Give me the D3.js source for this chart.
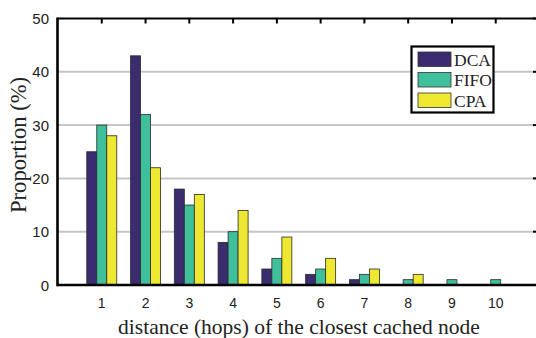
<!DOCTYPE html>
<html><head><meta charset="utf-8">
<script src="https://cdn.jsdelivr.net/npm/d3@7"></script>
<style>body{margin:0;background:#fff}svg{display:block}</style>
</head><body>
<svg id="c" width="536" height="338"></svg>
<script>
const categories = [1,2,3,4,5,6,7,8,9,10];
const seriesNames = ["DCA","FIFO","CPA"];
const dca  = [25,43,18,8,3,2,1,0,0,0];
const fifo = [30,32,15,10,5,3,2,1,1,1];
const cpa  = [28,22,17,14,9,5,3,2,0,0];
const yTicks = [0,10,20,30,40,50];
const colors = ["#3a2c6e","#3fbf9b","#eee831"];
const values = [dca,fifo,cpa];

const svg = d3.select("#c");
const L=57.5, R=538, T=18.5, B=285;
const x = d3.scaleLinear().domain([0,11]).range([58,539.5]);
const y = d3.scaleLinear().domain([0,50]).range([B,T]);
const xs = d3.scaleBand().domain(seriesNames).range([-15,15]);

// gridlines
svg.append("g").selectAll("line").data(yTicks.filter(d=>d>0&&d<50)).join("line")
  .attr("x1",L).attr("x2",R).attr("y1",d=>y(d)).attr("y2",d=>y(d))
  .attr("stroke","#c6c6c6").attr("stroke-width",2);

// bars
seriesNames.forEach((s,i)=>{
  svg.append("g").selectAll("rect").data(categories.map((c,j)=>({c,v:values[i][j]})).filter(d=>d.v>0)).join("rect")
    .attr("x",d=>x(d.c)+xs(s)).attr("width",xs.bandwidth())
    .attr("y",d=>y(d.v)).attr("height",d=>B-y(d.v))
    .attr("fill",colors[i]).attr("stroke","#2a2a2a").attr("stroke-width",0.8);
});

// frame
const ax = svg.append("g").attr("stroke","#000");
ax.append("line").attr("x1",L).attr("x2",R).attr("y1",T).attr("y2",T).attr("stroke-width",2.2);
ax.append("line").attr("x1",L).attr("x2",R).attr("y1",B).attr("y2",B).attr("stroke-width",2.6);
ax.append("line").attr("x1",L).attr("x2",L).attr("y1",T-1).attr("y2",B+1.3).attr("stroke-width",2.6);
ax.append("line").attr("x1",R).attr("x2",R).attr("y1",T).attr("y2",B).attr("stroke-width",2.2);
ax.selectAll(".tt").data(categories).join("line")
  .attr("x1",d=>x(d)).attr("x2",d=>x(d)).attr("y1",T).attr("y2",T+5).attr("stroke-width",2);
ax.selectAll(".rt").data(yTicks).join("line")
  .attr("x1",R-5).attr("x2",R).attr("y1",d=>y(d)).attr("y2",d=>y(d)).attr("stroke-width",2);

// tick labels
svg.append("g").selectAll("text").data(yTicks).join("text")
  .attr("x",49).attr("y",d=>y(d)+5.5).attr("text-anchor","end")
  .attr("font-family","Liberation Sans, Arial, sans-serif").attr("font-size",15).attr("fill","#222")
  .text(d=>d);
svg.append("g").selectAll("text").data(categories).join("text")
  .attr("x",d=>x(d)).attr("y",308).attr("text-anchor","middle")
  .attr("font-family","Liberation Sans, Arial, sans-serif").attr("font-size",14).attr("fill","#222")
  .text(d=>d);

// axis titles, sized to the reference widths
function fit(sel, w){
  const n = sel.node(); const fs = +sel.attr("font-size");
  const len = n.getComputedTextLength();
  if (len>0) sel.attr("font-size", (fs*w/len).toFixed(2));
}
const xt = svg.append("text").attr("x",299).attr("y",334).attr("text-anchor","middle")
  .attr("font-family","Liberation Serif, Times New Roman, serif").attr("font-size",20).attr("fill","#222")
  .text("distance (hops) of the closest cached node");
fit(xt, 362);
const yt = svg.append("text").attr("transform","translate(26,145) rotate(-90)").attr("text-anchor","middle")
  .attr("font-family","Liberation Serif, Times New Roman, serif").attr("font-size",20).attr("fill","#222")
  .text("Proportion (%)");
fit(yt, 136);

// legend
const lg = svg.append("g");
lg.append("rect").attr("x",411.5).attr("y",46.5).attr("width",82).attr("height",66)
  .attr("fill","#fff").attr("stroke","#000").attr("stroke-width",2.2);
seriesNames.forEach((s,i)=>{
  const yy = 52 + i*20.5;
  lg.append("rect").attr("x",418).attr("y",yy).attr("width",33).attr("height",14.5)
    .attr("fill",colors[i]).attr("stroke","#333").attr("stroke-width",0.8);
  lg.append("text").attr("x",454).attr("y",yy+13.5)
    .attr("font-family","Liberation Serif, Times New Roman, serif").attr("font-size",17.5).attr("fill","#222")
    .text(s);
});
</script>
</body></html>
